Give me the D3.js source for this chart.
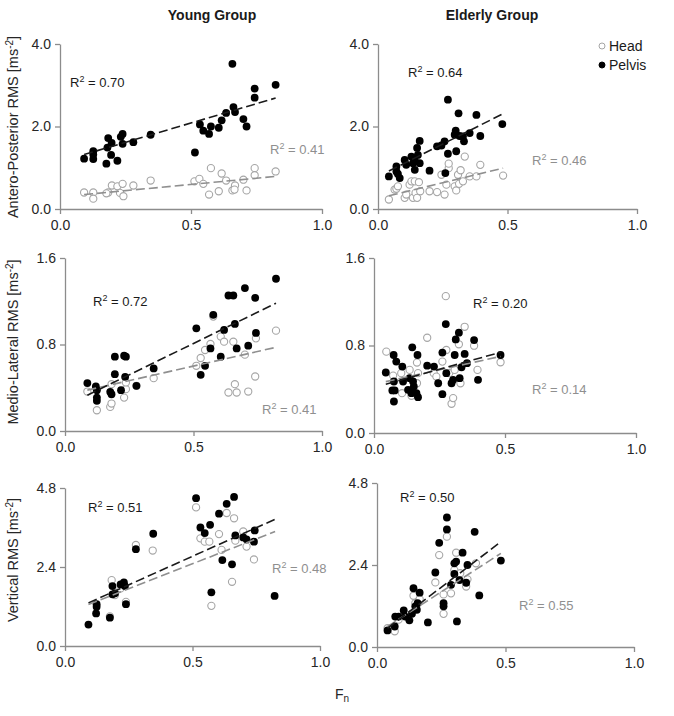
<!DOCTYPE html>
<html><head><meta charset="utf-8">
<script src="https://cdn.jsdelivr.net/npm/d3@7"></script>
<style>body{margin:0;background:#fff}svg{display:block;font-family:"Liberation Sans",Arial,sans-serif}</style>
</head><body><svg id="c" width="674" height="716"></svg>
<script>
// ---------------- DATA ----------------
const groups = ["Young Group", "Elderly Group"];
const measures = ["Antero-Posterior RMS", "Medio-Lateral RMS", "Vertical RMS"];
const yMaxes = [4.0, 1.6, 4.8];
const yTicks = [[0, 2, 4], [0, 0.8, 1.6], [0, 2.4, 4.8]];
const xTicks = [0, 0.5, 1.0];
const seriesNames = ["Head", "Pelvis"];

// Young / Antero-Posterior
const youngApPelvis = [[0.092,1.22],[0.127,1.21],[0.127,1.32],[0.127,1.40],[0.177,1.10],[0.181,1.49],[0.184,1.72],[0.197,1.60],[0.195,1.31],[0.219,1.17],[0.232,1.75],[0.239,1.82],[0.239,1.58],[0.280,1.62],[0.346,1.80],[0.515,1.37],[0.534,2.05],[0.547,1.90],[0.569,1.82],[0.576,2.00],[0.606,1.97],[0.617,2.15],[0.634,2.33],[0.658,3.52],[0.662,2.47],[0.668,2.35],[0.700,2.18],[0.712,2.00],[0.743,2.92],[0.743,2.70],[0.823,3.01]];
const youngApHead = [[0.092,0.40],[0.127,0.40],[0.127,0.25],[0.184,0.40],[0.177,0.38],[0.198,0.57],[0.219,0.55],[0.229,0.39],[0.239,0.61],[0.242,0.31],[0.280,0.57],[0.346,0.69],[0.513,0.67],[0.532,0.73],[0.547,0.61],[0.576,0.99],[0.569,0.35],[0.606,0.43],[0.617,0.86],[0.634,0.69],[0.658,0.45],[0.668,0.57],[0.666,0.47],[0.700,0.71],[0.712,0.45],[0.743,0.99],[0.743,0.82],[0.823,0.91]];
// Elderly / Antero-Posterior
const elderlyApPelvis = [[0.042,0.79],[0.071,0.91],[0.071,1.03],[0.077,0.85],[0.084,0.75],[0.103,1.19],[0.109,1.07],[0.129,1.27],[0.135,1.11],[0.142,1.19],[0.142,0.95],[0.151,1.48],[0.154,1.31],[0.161,1.11],[0.161,1.65],[0.199,0.93],[0.228,1.52],[0.245,1.54],[0.257,1.64],[0.260,0.87],[0.270,2.65],[0.270,1.34],[0.296,1.80],[0.300,1.90],[0.302,1.40],[0.311,2.32],[0.315,1.77],[0.328,1.76],[0.332,1.64],[0.354,1.84],[0.380,2.28],[0.395,1.77],[0.480,2.06]];
const elderlyApHead = [[0.042,0.23],[0.064,0.47],[0.071,0.49],[0.077,0.55],[0.103,0.27],[0.109,0.35],[0.122,0.59],[0.129,0.67],[0.135,0.27],[0.142,0.67],[0.145,0.39],[0.151,0.27],[0.158,0.65],[0.163,0.43],[0.199,0.43],[0.228,0.41],[0.245,0.83],[0.257,0.35],[0.264,0.59],[0.273,0.99],[0.273,1.10],[0.296,0.55],[0.302,0.45],[0.309,0.83],[0.319,0.94],[0.313,0.61],[0.328,0.67],[0.335,1.27],[0.354,0.79],[0.380,0.79],[0.395,1.07],[0.483,0.81]];
// Young / Medio-Lateral
const youngMlPelvis = [[0.087,0.443],[0.120,0.412],[0.124,0.378],[0.124,0.309],[0.124,0.279],[0.176,0.362],[0.181,0.340],[0.194,0.687],[0.194,0.526],[0.218,0.378],[0.230,0.696],[0.237,0.687],[0.234,0.501],[0.278,0.418],[0.345,0.579],[0.511,0.950],[0.528,0.520],[0.545,0.603],[0.566,0.764],[0.577,1.074],[0.606,0.687],[0.619,0.935],[0.636,1.253],[0.655,1.253],[0.661,0.990],[0.668,0.764],[0.700,1.322],[0.713,0.789],[0.740,1.232],[0.743,0.907],[0.821,1.408]];
const youngMlHead = [[0.087,0.365],[0.124,0.192],[0.176,0.223],[0.181,0.254],[0.181,0.433],[0.230,0.309],[0.237,0.387],[0.237,0.449],[0.278,0.418],[0.345,0.489],[0.511,0.603],[0.528,0.675],[0.545,0.749],[0.566,0.805],[0.577,1.058],[0.606,0.873],[0.619,0.826],[0.636,0.356],[0.655,0.826],[0.661,0.433],[0.668,0.356],[0.700,0.706],[0.713,0.365],[0.740,0.504],[0.743,0.857],[0.821,0.928]];
// Elderly / Medio-Lateral
const elderlyMlPelvis = [[0.045,0.553],[0.075,0.713],[0.076,0.471],[0.070,0.389],[0.079,0.389],[0.076,0.288],[0.085,0.653],[0.108,0.607],[0.111,0.471],[0.130,0.395],[0.136,0.501],[0.146,0.783],[0.149,0.471],[0.143,0.364],[0.152,0.425],[0.162,0.364],[0.166,0.713],[0.168,0.328],[0.203,0.616],[0.229,0.607],[0.245,0.455],[0.261,0.355],[0.261,0.735],[0.274,0.996],[0.276,0.547],[0.296,0.455],[0.302,0.486],[0.308,0.713],[0.312,0.856],[0.324,0.917],[0.327,0.501],[0.334,0.601],[0.346,0.723],[0.355,0.638],[0.382,0.850],[0.397,0.486],[0.483,0.713]];
const elderlyMlHead = [[0.047,0.744],[0.073,0.525],[0.104,0.547],[0.107,0.364],[0.136,0.577],[0.143,0.340],[0.164,0.644],[0.168,0.547],[0.164,0.455],[0.203,0.871],[0.228,0.547],[0.238,0.516],[0.261,0.653],[0.274,1.251],[0.276,0.759],[0.287,0.547],[0.296,0.267],[0.302,0.319],[0.308,0.577],[0.324,0.811],[0.330,0.455],[0.346,0.971],[0.382,0.798],[0.395,0.577],[0.483,0.647]];
// Young / Vertical
const youngVPelvis = [[0.092,0.651],[0.124,1.19],[0.124,1.27],[0.122,0.99],[0.176,0.86],[0.186,1.82],[0.186,1.57],[0.196,1.60],[0.218,1.87],[0.231,1.93],[0.235,1.82],[0.239,1.27],[0.278,2.94],[0.346,3.41],[0.514,4.49],[0.531,3.60],[0.548,3.43],[0.569,3.68],[0.574,1.63],[0.604,4.02],[0.617,2.61],[0.634,4.32],[0.655,2.48],[0.663,4.53],[0.668,3.36],[0.699,3.30],[0.712,3.24],[0.741,3.17],[0.744,3.51],[0.822,1.52]];
const youngVHead = [[0.183,2.00],[0.176,0.90],[0.196,1.55],[0.218,1.75],[0.239,1.34],[0.278,3.07],[0.344,2.90],[0.514,4.21],[0.531,3.27],[0.548,3.17],[0.566,3.17],[0.574,1.22],[0.604,3.40],[0.614,2.92],[0.634,4.04],[0.655,1.95],[0.663,3.88],[0.668,3.20],[0.699,3.48],[0.712,3.02],[0.741,2.63]];
// Elderly / Vertical
const elderlyVPelvis = [[0.041,0.486],[0.069,0.60],[0.071,0.89],[0.084,0.89],[0.104,1.07],[0.110,0.89],[0.126,0.78],[0.136,0.97],[0.142,1.72],[0.149,1.19],[0.158,1.28],[0.166,1.59],[0.155,1.09],[0.198,0.72],[0.227,2.18],[0.242,3.05],[0.259,1.28],[0.259,1.19],[0.272,3.79],[0.272,3.44],[0.288,1.82],[0.301,2.14],[0.301,2.45],[0.308,2.50],[0.311,0.75],[0.321,1.96],[0.333,2.76],[0.347,1.88],[0.352,2.40],[0.380,3.37],[0.398,1.51],[0.482,2.53]];
const elderlyVHead = [[0.041,0.55],[0.069,0.46],[0.084,0.80],[0.142,1.50],[0.149,1.28],[0.166,1.40],[0.227,1.89],[0.242,2.69],[0.259,1.54],[0.259,0.97],[0.272,3.23],[0.288,1.57],[0.301,2.25],[0.308,2.76],[0.324,2.16],[0.347,1.77],[0.352,1.98],[0.385,2.45]];

// trend line end points [[x0,y0],[x1,y1]]
const youngApPelvisFit = [[0.092,1.32],[0.823,2.69]];
const youngApHeadFit = [[0.092,0.35],[0.823,0.79]];
const elderlyApPelvisFit = [[0.042,0.92],[0.483,2.31]];
const elderlyApHeadFit = [[0.042,0.32],[0.483,0.99]];
const youngMlPelvisFit = [[0.087,0.331],[0.821,1.182]];
const youngMlHeadFit = [[0.087,0.378],[0.821,0.774]];
const elderlyMlPelvisFit = [[0.045,0.446],[0.483,0.738]];
const elderlyMlHeadFit = [[0.045,0.47],[0.483,0.70]];
const youngVPelvisFit = [[0.092,1.31],[0.824,3.85]];
const youngVHeadFit = [[0.092,1.26],[0.824,3.48]];
const elderlyVPelvisFit = [[0.041,0.55],[0.482,3.08]];
const elderlyVHeadFit = [[0.041,0.60],[0.482,2.74]];

// R² values [pelvis, head]
const r2Young = [["0.70","0.41"],["0.72","0.41"],["0.51","0.48"]];
const r2Elderly = [["0.64","0.46"],["0.20","0.14"],["0.50","0.55"]];

// ---------------- LAYOUT ----------------
const panels = [
  {row:0,col:0,l:60,r:322,t:44,b:209,pel:youngApPelvis,head:youngApHead,pf:youngApPelvisFit,hf:youngApHeadFit,r2:r2Young[0],lp:[70,87],lh:[270,154]},
  {row:0,col:1,l:378,r:637,t:44,b:209,pel:elderlyApPelvis,head:elderlyApHead,pf:elderlyApPelvisFit,hf:elderlyApHeadFit,r2:r2Elderly[0],lp:[408,77],lh:[532,165]},
  {row:1,col:0,l:65,r:322,t:258,b:431,pel:youngMlPelvis,head:youngMlHead,pf:youngMlPelvisFit,hf:youngMlHeadFit,r2:r2Young[1],lp:[93,306],lh:[262,414]},
  {row:1,col:1,l:374,r:636,t:258,b:433,pel:elderlyMlPelvis,head:elderlyMlHead,pf:elderlyMlPelvisFit,hf:elderlyMlHeadFit,r2:r2Elderly[1],lp:[473,308],lh:[532,394]},
  {row:2,col:0,l:65,r:320,t:488,b:646,pel:youngVPelvis,head:youngVHead,pf:youngVPelvisFit,hf:youngVHeadFit,r2:r2Young[2],lp:[88,512],lh:[272,573]},
  {row:2,col:1,l:377,r:634,t:483,b:647,pel:elderlyVPelvis,head:elderlyVHead,pf:elderlyVPelvisFit,hf:elderlyVHeadFit,r2:r2Elderly[2],lp:[400,502],lh:[519,610]}
];

const svg = d3.select("#c");
const axisColor = "#8c8c8c", headColor = "#a6a6a6", tickText = "#262626";

panels.forEach(p => {
  const x = d3.scaleLinear().domain([0,1]).range([p.l,p.r]);
  const y = d3.scaleLinear().domain([0,yMaxes[p.row]]).range([p.b,p.t]);
  const g = svg.append("g");
  const ya = g.append("g").attr("transform",`translate(${p.l},0)`)
    .call(d3.axisLeft(y).tickValues(yTicks[p.row]).tickFormat(d3.format(".1f")).tickSize(5).tickSizeOuter(0));
  const xa = g.append("g").attr("transform",`translate(0,${p.b})`)
    .call(d3.axisBottom(x).tickValues(xTicks).tickFormat(d3.format(".1f")).tickSize(5).tickSizeOuter(0));
  [ya,xa].forEach(a=>{
    a.select(".domain").attr("stroke",axisColor).attr("stroke-width",1.3);
    a.selectAll(".tick line").attr("stroke",axisColor).attr("stroke-width",1.3);
    a.selectAll(".tick text").attr("fill",tickText).attr("font-size",14).attr("font-family","Liberation Sans, Arial, sans-serif");
  });
  ya.selectAll(".tick text").attr("x",-9);
  xa.selectAll(".tick text").attr("y",11);

  // head (open)
  g.append("g").selectAll("circle").data(p.head).join("circle")
    .attr("cx",d=>x(d[0])).attr("cy",d=>y(d[1])).attr("r",3.6)
    .attr("fill","#fff").attr("stroke",headColor).attr("stroke-width",1.1);
  // pelvis (filled)
  g.append("g").selectAll("circle").data(p.pel).join("circle")
    .attr("cx",d=>x(d[0])).attr("cy",d=>y(d[1])).attr("r",3.9)
    .attr("fill","#000");
  // fits
  const line = d3.line().x(d=>x(d[0])).y(d=>y(d[1]));
  g.append("path").attr("d",line(p.hf)).attr("fill","none").attr("stroke","#8f8f8f").attr("stroke-width",1.6).attr("stroke-dasharray","9,4");
  g.append("path").attr("d",line(p.pf)).attr("fill","none").attr("stroke","#1a1a1a").attr("stroke-width",1.6).attr("stroke-dasharray","9,4");

  // R² labels
  const r2 = (pos,val,col) => {
    const t = g.append("text").attr("x",pos[0]).attr("y",pos[1]).attr("font-size",13).attr("fill",col);
    t.append("tspan").text("R");
    t.append("tspan").attr("font-size",9).attr("dy",-5).text("2");
    t.append("tspan").attr("dy",5).text(" = " + val);
  };
  r2(p.lp,p.r2[0],"#1a1a1a");
  r2(p.lh,p.r2[1],"#8f8f8f");
});

// titles
[[212,groups[0]],[492,groups[1]]].forEach(([cx,t])=>{
  svg.append("text").attr("x",cx).attr("y",20).attr("text-anchor","middle")
    .attr("font-size",14).attr("font-weight","bold").attr("fill","#1a1a1a").text(t);
});

// y labels
[[127,measures[0]],[342,measures[1]],[560,measures[2]]].forEach(([cy,t])=>{
  const tx = svg.append("text").attr("transform",`translate(18,${cy}) rotate(-90)`)
    .attr("text-anchor","middle").attr("font-size",14.5).attr("fill","#262626");
  tx.append("tspan").text(t + " [ms");
  tx.append("tspan").attr("font-size",10).attr("dy",-5).text("-2");
  tx.append("tspan").attr("dy",5).text("]");
});

// x label
const fl = svg.append("text").attr("x",335).attr("y",699).attr("font-size",14).attr("fill","#262626");
fl.append("tspan").text("F");
fl.append("tspan").attr("font-size",10).attr("dy",3).text("n");

// legend
const lg = svg.append("g");
seriesNames.forEach((s,i)=>{
  const yy = 46 + i*19;
  lg.append("circle").attr("cx",602).attr("cy",yy).attr("r",3)
    .attr("fill", i===0 ? "#fff" : "#000").attr("stroke", i===0 ? headColor : "#000").attr("stroke-width",1);
  lg.append("text").attr("x",609).attr("y",yy+5).attr("font-size",14).attr("fill","#1a1a1a").text(s);
});
</script></body></html>
